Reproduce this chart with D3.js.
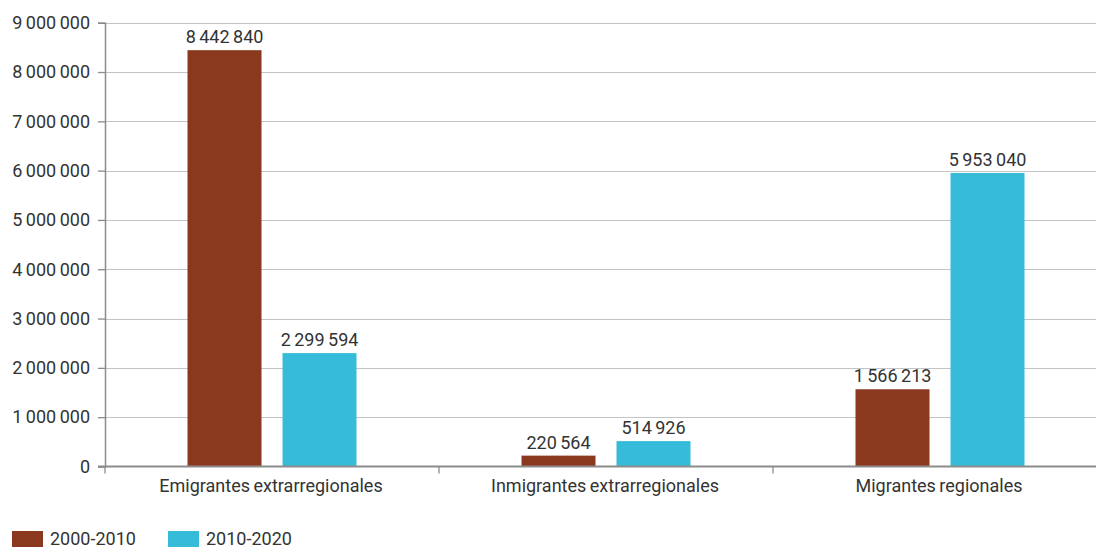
<!DOCTYPE html>
<html><head><meta charset="utf-8">
<script src="https://cdn.jsdelivr.net/npm/d3@7"></script>
<style>
body{margin:0;background:#fff;}
text{font-family:Roboto,"Liberation Sans",sans-serif;fill:#333;}
</style></head>
<body><svg id="c" width="1096" height="550"></svg>
<script>
const categories = ["Emigrantes extrarregionales","Inmigrantes extrarregionales","Migrantes regionales"];
const seriesNames = ["2000-2010","2010-2020"];
const values2000 = [8442840, 220564, 1566213];
const values2010 = [2299594, 514926, 5953040];
const yTicks = [0,1000000,2000000,3000000,4000000,5000000,6000000,7000000,8000000,9000000];
const colors = ["#8a391f","#36bcd8"];

const svg = d3.select("#c");
const x0 = 105, x1 = 1107, yBottom = 466.5, yTop = 22.7;
const fmt = v => d3.format(",")(v).replace(/,/g," ");
const FS = 18;

const x = d3.scaleBand().domain(categories).range([x0,x1]);
const y = d3.scaleLinear().domain([0,9000000]).range([yBottom,yTop]);
const barW = 74, gap = 21;

// gridlines
svg.append("g").selectAll("line").data(yTicks.filter(d=>d>0)).join("line")
  .attr("x1",x0).attr("x2",1096).attr("y1",d=>Math.round(y(d))+0.5).attr("y2",d=>Math.round(y(d))+0.5)
  .attr("stroke","#c4c4c4").attr("stroke-width",1);

// y axis
const yAxis = svg.append("g").attr("transform",`translate(${x0},0)`)
  .call(d3.axisLeft(y).tickValues(yTicks).tickFormat(fmt).tickSize(7).tickPadding(8));
yAxis.select(".domain").attr("stroke","#8c8c8c").attr("stroke-width",1.5);
yAxis.selectAll(".tick line").attr("stroke","#8c8c8c").attr("stroke-width",1.3);
yAxis.selectAll("text").attr("font-size",FS).attr("fill","#333").style("word-spacing","-1px")
  .attr("font-family","Roboto, sans-serif");

// bars
const series = [values2000, values2010];
series.forEach((vals,si)=>{
  const g = svg.append("g");
  categories.forEach((c,i)=>{
    const cx = x(c) + x.bandwidth()/2;
    const bx = si===0 ? cx - gap/2 - barW : cx + gap/2;
    g.append("rect").attr("x",bx).attr("width",barW)
      .attr("y",y(vals[i])).attr("height",yBottom - y(vals[i]))
      .attr("fill",colors[si]);
    g.append("text").attr("x",bx+barW/2).attr("y",y(vals[i])-7)
      .attr("text-anchor","middle").attr("font-size",FS).style("word-spacing","-1px")
      .text(fmt(vals[i]));
  });
});

// x axis
const xAxisG = svg.append("g").attr("transform",`translate(0,${yBottom})`);
xAxisG.append("line").attr("x1",x0-7).attr("x2",1096).attr("y1",0).attr("y2",0)
  .attr("stroke","#8c8c8c").attr("stroke-width",1.8);
xAxisG.selectAll(".ct").data(categories).join("line").attr("class","ct")
  .attr("x1",d=>x(d)).attr("x2",d=>x(d)).attr("y1",0).attr("y2",7)
  .attr("stroke","#8c8c8c").attr("stroke-width",1.3);
xAxisG.selectAll(".cl").data(categories).join("text").attr("class","cl")
  .attr("x",d=>x(d)+x.bandwidth()/2 - 1).attr("y",25)
  .attr("text-anchor","middle").attr("font-size",FS).style("word-spacing","-1px")
  .text(d=>d);

// legend
const legendX = [12, 168];
seriesNames.forEach((s,i)=>{
  svg.append("rect").attr("x",legendX[i]).attr("y",531).attr("width",31).attr("height",16).attr("fill",colors[i]);
  svg.append("text").attr("x",legendX[i]+38).attr("y",545).attr("font-size",FS).text(s);
});
</script></body></html>
